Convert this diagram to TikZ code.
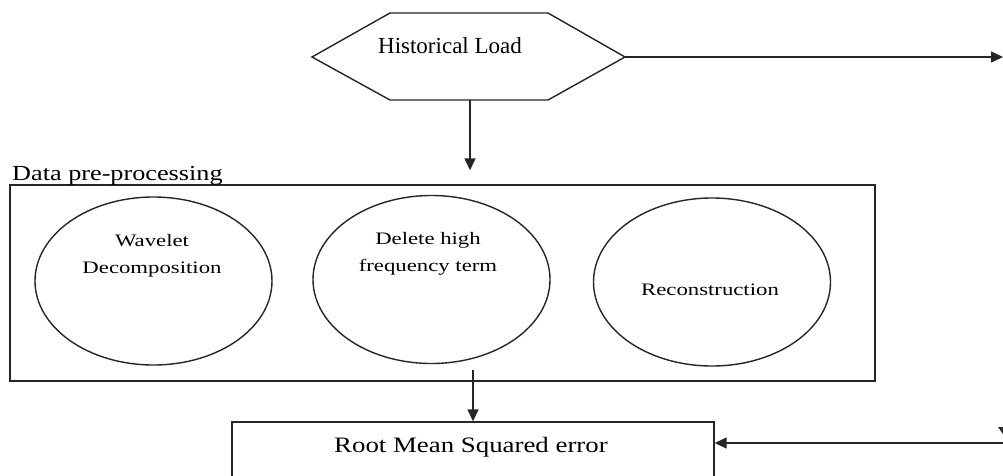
\documentclass[tikz,border=0pt]{standalone}
\usepackage{fontspec}
\setmainfont{Liberation Serif}
\newfontfamily\widefont[FakeStretch=1.3]{Liberation Serif}
\newfontfamily\midfont[FakeStretch=1.22]{Liberation Serif}
\usetikzlibrary{shapes.geometric,arrows.meta,calc}
\begin{document}
\begin{tikzpicture}[x=1pt,y=-1pt,
  line/.style={line width=1.4pt, draw=black!85},
  arr/.style={line, -{Triangle[length=12pt,width=11pt]}},
  oval/.style={ellipse, line, minimum width=237pt, minimum height=168pt, inner sep=0pt},
  etext/.style={font=\widefont\fontsize{17.5}{27}\selectfont, align=center, inner sep=0pt, text=black},
  boxnode/.style={rectangle, line, inner sep=0pt},
]
\useasboundingbox (0,0) rectangle (1003,475);
\clip (0,0) rectangle (1003,475);
\fill[white] (0,0) rectangle (1003,475);

% hexagon
\draw[line] (390,13) -- (548,13) -- (625,57) coordinate (hexR) -- (548,100) -- (390,100) -- (312,57) -- cycle;
\coordinate (hexB) at (470,100);
\node[font=\fontsize{23}{23}\selectfont, anchor=base, inner sep=0pt, text=black] (hl) at (450,53) {Historical Load};

% pre-processing box
\node[boxnode, minimum width=865pt, minimum height=196pt] (pre) at (442.5,283) {};
\node[font=\midfont\fontsize{21.5}{21.5}\selectfont, anchor=base west, inner sep=0pt, text=black] (prelabel) at (12,180) {Data pre-processing};

% ellipses
\node[oval] (e1) at (153.5,281) {};
\node[oval] (e2) at (431.5,279.5) {};
\node[oval] (e3) at (712,282) {};
\node[etext, anchor=base] (t1) at (152,273) {Wavelet\\Decomposition};
\node[etext, anchor=base] (t2) at (428,271) {Delete high\\frequency term};
\node[etext] (t3) at (710,290) {Reconstruction};

% RMSE box
\node[boxnode, minimum width=482pt, minimum height=80pt] (rmse) at (473,462) {};
\node[font=\midfont\fontsize{22}{22}\selectfont, anchor=base, inner sep=0pt, text=black] (rmsetext) at (471,452) {Root Mean Squared error};

% connectors
\coordinate (outR) at (1003,57);
\coordinate (inR) at (1003,443);
\draw[arr] (hexR) -- (outR);
\draw[arr, shorten >=14pt] (hexB) -- (hexB |- pre.north);
\draw[arr] ($(pre.south -| rmse.north)+(0,-12)$) -- (rmse.north);
\draw[arr] (inR) -- (rmse.east |- inR);
\fill[black!85] (998,427) -- (1012,427) -- (1005,437) -- cycle;
\end{tikzpicture}
\end{document}
